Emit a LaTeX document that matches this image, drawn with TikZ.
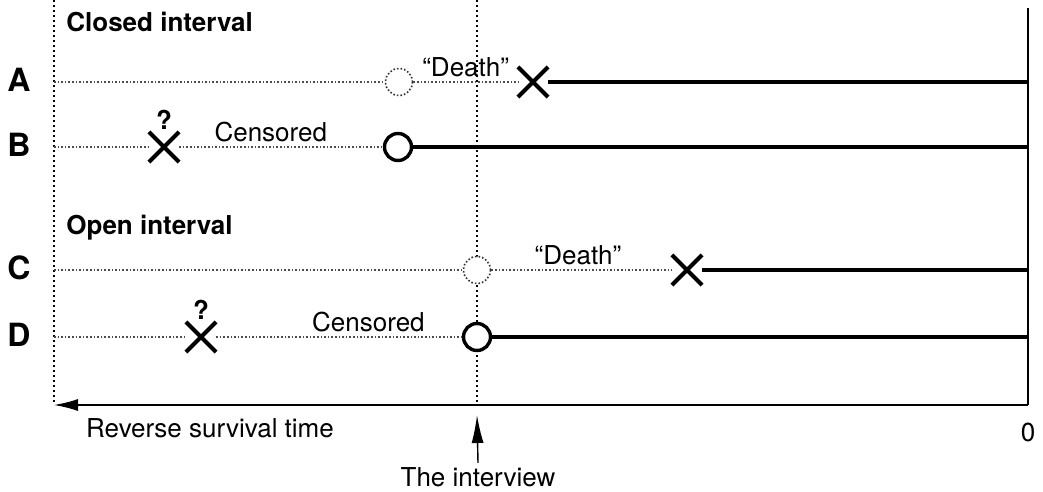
\documentclass[tikz,border=0pt]{standalone}
\usepackage{fontspec}
\setmainfont{TeX Gyre Heros}
\usetikzlibrary{positioning,shapes.misc,arrows.meta}

\begin{document}
\begin{tikzpicture}[x=0.5pt,y=-0.5pt,
  TextStyle/.style={font=\fontsize{13}{15}\selectfont, inner sep=2pt},
  TitleStyle/.style={font=\fontsize{13}{15}\selectfont\bfseries, anchor=west, inner sep=0pt},
  RowStyle/.style={font=\fontsize{16}{19}\selectfont\bfseries, inner sep=0pt},
  CrossStyle/.style={cross out, draw, line width=2.1pt, minimum size=13pt, inner sep=0pt},
  CircleStyle/.style={circle, draw, fill=white, line width=1.7pt, minimum size=13.5pt, inner sep=0pt},
  GhostStyle/.style={circle, draw=black!80, fill=white, densely dotted, line width=0.8pt, minimum size=13.5pt, inner sep=0pt},
  DotStyle/.style={black!70, densely dotted, line width=0.8pt},
  LifeStyle/.style={line width=1.6pt},
  GuideStyle/.style={dash pattern=on 1pt off 1.5pt, line width=0.6pt}]
\useasboundingbox (0,0) rectangle (1043,492);
% frame and time axis
\coordinate (l-top) at (54,0);
\coordinate (l-bot) at (54,405);
\coordinate (i-top) at (477,0);
\coordinate (i-bot) at (477,405);
\coordinate (i-tip) at (477,415);
\coordinate (r-top) at (1028,8);
\coordinate (r-bot) at (1028,405);
\draw[GuideStyle] (l-top) -- (l-bot);
\draw[GuideStyle] (i-top) -- (i-bot);
\draw[line width=0.7pt] (r-top) -- (r-bot);
\draw[line width=0.7pt, -{Latex[length=12pt,width=6pt]}] (r-bot) -- (l-bot);
\node[TextStyle] (reverse) at (210,428) {Reverse survival time};
\node[TextStyle] (zero) at (1028,432) {0};
\node[TextStyle] (interview) at (478,477) {The interview};
\draw[line width=0.7pt, -{Latex[length=14pt,width=6pt]}] (interview.north) -- (i-tip);
% closed interval
\node[TitleStyle] (closed) at (66,22) {Closed interval};
\node[RowStyle] (A) at (19,80) {A};
\coordinate (a-start) at (54,82);
\coordinate (a-end) at (1028,82);
\node[GhostStyle] (a-ghost) at (399,82) {};
\node[CrossStyle] (a-death) at (533,82) {};
\draw[DotStyle] (a-start) -- (a-ghost) -- node[TextStyle, above, text=black] (a-label) {“Death”} (a-death);
\draw[LifeStyle] (a-death) -- (a-end);
\node[RowStyle] (B) at (19,145) {B};
\coordinate (b-start) at (54,147);
\coordinate (b-end) at (1028,147);
\node[CrossStyle] (b-censor) at (164,147) {};
\node[TextStyle, font=\fontsize{13}{15}\selectfont\bfseries, inner sep=0pt, above=1pt of b-censor] (b-query) {?};
\node[CircleStyle] (b-last) at (398,147) {};
\draw[DotStyle] (b-start) -- (b-censor) -- node[TextStyle, above, pos=0.45, text=black] (b-label) {Censored} (b-last);
\draw[LifeStyle] (b-last) -- (b-end);
% open interval
\node[TitleStyle] (open) at (66,228) {Open interval};
\node[RowStyle] (C) at (19,268) {C};
\coordinate (c-start) at (54,270);
\coordinate (c-end) at (1028,270);
\node[GhostStyle] (c-ghost) at (477,270) {};
\node[CrossStyle] (c-death) at (687,270) {};
\draw[DotStyle] (c-start) -- (c-ghost) -- node[TextStyle, above, pos=0.48, text=black] (c-label) {“Death”} (c-death);
\draw[LifeStyle] (c-death) -- (c-end);
\node[RowStyle] (D) at (19,335) {D};
\coordinate (d-start) at (54,337);
\coordinate (d-end) at (1028,337);
\node[CrossStyle] (d-censor) at (201,337) {};
\node[TextStyle, font=\fontsize{13}{15}\selectfont\bfseries, inner sep=0pt, above=1pt of d-censor] (d-query) {?};
\node[CircleStyle] (d-last) at (477,337) {};
\draw[DotStyle] (d-start) -- (d-censor) -- node[TextStyle, above, pos=0.62, text=black] (d-label) {Censored} (d-last);
\draw[LifeStyle] (d-last) -- (d-end);
\end{tikzpicture}
\end{document}
